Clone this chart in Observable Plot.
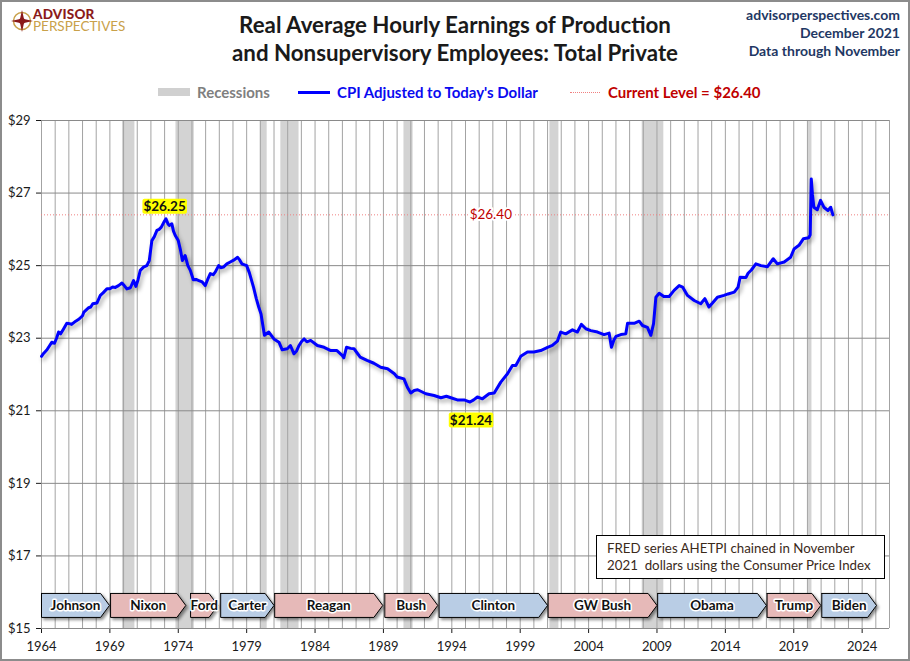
<!DOCTYPE html>
<html><head><meta charset="utf-8">
<script src="https://cdn.jsdelivr.net/npm/d3@7"></script>
<script src="https://cdn.jsdelivr.net/npm/@observablehq/plot@0.6"></script>
<style>
html,body{margin:0;padding:0;background:#fff;}
#wrap{position:relative;width:910px;height:661px;overflow:hidden;font-family:Lato,"Open Sans",sans-serif;background:#fff;}
#border{position:absolute;left:0;top:0;width:910px;height:661px;box-sizing:border-box;border:2px solid #8c8c8c;pointer-events:none;z-index:10;}
#plot{position:absolute;left:0;top:100px;}
.abs{position:absolute;white-space:nowrap;}
#title{left:0;top:11px;width:910px;text-align:center;font-weight:bold;font-size:22.3px;line-height:28px;color:#1a1a1a;}
#topright{right:10px;top:6px;text-align:right;font-weight:bold;font-size:14px;line-height:18px;color:#1f3864;}
.leg{font-weight:bold;font-size:15px;line-height:16px;top:84px;}
#note{left:596px;top:535px;width:289px;height:44px;border:1px solid #000;background:#fff;z-index:5;box-sizing:border-box;padding:4px 0 0 10px;font-size:13.3px;line-height:17px;color:#3b2a1a;}
</style>
</head><body>
<div id="wrap">
  <div id="border"></div>
  <svg class="abs" style="left:11px;top:10px" width="24" height="24" viewBox="0 0 24 24">
    <circle cx="11" cy="11" r="8.5" fill="none" stroke="#c9a14a" stroke-width="1.5"/>
    <path d="M11 0 L13 9 L22 11 L13 13 L11 22 L9 13 L0 11 L9 9 Z" fill="#8b1a1a"/>
    <circle cx="11" cy="11" r="3" fill="#8b1a1a"/>
  </svg>
  <div class="abs" style="left:33px;top:9px;font-size:13.5px;line-height:11.5px"><span style="font-weight:900;color:#8b1a1a;letter-spacing:0.2px">ADVISOR</span><br><span style="color:#c9a14a">PERSPECTIVES</span></div>
  <div id="title" class="abs">Real Average Hourly Earnings of Production<br>and Nonsupervisory Employees: Total Private</div>
  <div id="topright" class="abs">advisorperspectives.com<br>December 2021<br>Data through November</div>
  <div class="abs" style="left:158px;top:88px;width:32px;height:8px;background:#d0d0d0"></div>
  <div class="abs leg" style="left:197px;color:#7f7f7f">Recessions</div>
  <div class="abs" style="left:298px;top:91px;width:32px;height:2.5px;background:#0000ff"></div>
  <div class="abs leg" style="left:337px;color:#0a0af0">CPI Adjusted to Today's Dollar</div>
  <div class="abs" style="left:570px;top:92px;width:30px;height:0;border-top:1px dotted #f08080"></div>
  <div class="abs leg" style="left:608px;color:#c00000">Current Level = $26.40</div>
  <div id="plot"></div>
  <div id="note" class="abs">FRED series AHETPI chained in November<br>2021&nbsp; dollars using the Consumer Price Index</div>
</div>
<script>
// ---- data ----
const dates = [1964.00,1964.15,1964.40,1964.60,1964.75,1964.95,1965.10,1965.25,1965.40,1965.60,1965.85,1966.05,1966.20,1966.50,1966.75,1967.00,1967.10,1967.45,1967.60,1967.75,1968.05,1968.30,1968.50,1968.78,1969.00,1969.20,1969.40,1969.63,1969.88,1970.05,1970.24,1970.50,1970.73,1970.90,1971.05,1971.22,1971.46,1971.70,1971.88,1972.07,1972.25,1972.44,1972.60,1972.76,1972.95,1973.10,1973.25,1973.34,1973.53,1973.65,1973.78,1974.00,1974.15,1974.30,1974.50,1974.70,1974.88,1975.10,1975.30,1975.50,1975.75,1975.97,1976.15,1976.34,1976.55,1976.70,1976.95,1977.10,1977.30,1977.55,1977.80,1978.05,1978.34,1978.50,1978.65,1979.00,1979.20,1979.50,1979.70,1979.88,1980.05,1980.30,1980.62,1980.99,1981.36,1981.60,1981.97,1982.20,1982.46,1982.65,1982.83,1983.00,1983.20,1983.40,1983.68,1984.17,1984.66,1985.15,1985.60,1986.00,1986.10,1986.30,1986.60,1986.85,1987.30,1987.80,1988.30,1988.80,1989.30,1989.80,1990.00,1990.50,1990.75,1991.00,1991.25,1991.50,1992.10,1992.70,1993.20,1993.60,1993.93,1994.40,1994.90,1995.33,1995.60,1995.87,1996.24,1996.72,1997.10,1997.58,1998.07,1998.43,1998.68,1999.04,1999.53,2000.00,2000.50,2001.00,2001.35,2001.72,2001.96,2002.33,2002.82,2003.18,2003.47,2003.80,2004.16,2004.65,2005.13,2005.50,2005.67,2005.85,2006.00,2006.36,2006.72,2006.85,2007.33,2007.70,2007.94,2008.30,2008.55,2008.75,2008.92,2009.16,2009.50,2009.89,2010.25,2010.62,2010.87,2011.23,2011.72,2012.20,2012.50,2012.80,2013.06,2013.42,2013.90,2014.20,2014.65,2014.93,2015.08,2015.50,2015.66,2015.90,2016.23,2016.60,2017.08,2017.50,2017.80,2018.30,2018.77,2019.02,2019.38,2019.70,2020.10,2020.20,2020.28,2020.37,2020.47,2020.72,2020.96,2021.20,2021.50,2021.70,2021.86];
const values = [22.50,22.58,22.68,22.80,22.89,22.86,23.00,23.17,23.12,23.25,23.41,23.40,23.38,23.47,23.53,23.62,23.72,23.84,23.86,23.95,23.97,24.18,24.25,24.36,24.36,24.41,24.40,24.45,24.52,24.45,24.36,24.39,24.59,24.43,24.60,24.87,24.96,25.00,25.14,25.69,25.80,25.97,26.00,26.06,26.20,26.29,26.15,26.11,26.15,25.95,25.83,25.69,25.45,25.14,25.28,25.00,24.87,24.61,24.62,24.59,24.55,24.45,24.62,24.78,24.75,24.82,25.00,24.94,24.96,25.05,25.10,25.15,25.23,25.15,25.05,25.00,24.80,24.41,24.10,23.86,23.67,23.08,23.17,22.98,22.89,22.68,22.71,22.80,22.57,22.65,22.80,22.90,22.98,22.90,22.94,22.80,22.75,22.66,22.66,22.52,22.46,22.75,22.72,22.71,22.48,22.39,22.31,22.20,22.16,22.02,21.93,21.88,21.65,21.49,21.56,21.58,21.47,21.42,21.36,21.40,21.36,21.30,21.30,21.24,21.30,21.38,21.33,21.47,21.49,21.79,22.02,22.25,22.25,22.50,22.62,22.62,22.66,22.75,22.80,22.92,23.17,23.12,23.23,23.17,23.38,23.26,23.21,23.17,23.10,23.14,22.75,22.95,23.05,23.10,23.12,23.41,23.41,23.47,23.35,23.30,23.08,23.40,24.13,24.24,24.15,24.15,24.32,24.45,24.41,24.18,24.04,23.95,24.09,23.86,23.97,24.13,24.18,24.22,24.27,24.41,24.68,24.67,24.79,24.88,25.05,25.00,24.97,25.19,25.05,25.10,25.23,25.46,25.56,25.74,25.77,25.85,27.39,26.95,26.61,26.54,26.80,26.61,26.52,26.61,26.40];
const recStart = [1969.92,1973.83,1980.00,1981.50,1990.50,2001.17,2007.92,2020.08];
const recEnd   = [1970.83,1975.17,1980.50,1982.83,1991.17,2001.83,2009.50,2020.33];
const presNames = ["Johnson","Nixon","Ford","Carter","Reagan","Bush","Clinton","GW Bush","Obama","Trump","Biden"];
const presStart = [1964.0,1969.05,1974.9,1977.1,1981.05,1989.1,1993.07,2001.04,2009.05,2017.05,2021.05];
const presEnd   = [1968.97,1974.55,1976.9,1981.0,1988.95,1992.97,2001.0,2009.0,2017.0,2020.98,2025.05];
const presParty = ["D","R","R","D","R","R","D","R","D","R","D"];
const xTicks = [1964,1969,1974,1979,1984,1989,1994,1999,2004,2009,2014,2019,2024];
const yTicks = [15,17,19,21,23,25,27,29];
const currentLevel = 26.40;
const hiLabels = [{x:1973.0, y:26.25, text:"$26.25"},{x:1995.4, y:21.24, text:"$21.24"}];

// ---- derived ----
const series = dates.map((d,i)=>({x:d, y:values[i]}));
const recessions = recStart.map((s,i)=>({start:s, end:recEnd[i]}));
const partyColor = {D:"#b9cde5", R:"#e6b9b8"};
const arrTop = 15.966, arrBot = 15.305, arrMid = (arrTop+arrBot)/2, arrTip = 0.65;
const presidents = presNames.map((n,i)=>({name:n, start:presStart[i], end:presEnd[i], color:partyColor[presParty[i]]}));
const presMarks = presidents.map(p => Plot.line([
  {x:p.start,y:arrTop},{x:p.end-arrTip,y:arrTop},{x:p.end,y:arrMid},{x:p.end-arrTip,y:arrBot},{x:p.start,y:arrBot},{x:p.start,y:arrTop}
], {x:"x", y:"y", fill:p.color, stroke:"#000000", strokeWidth:1, curve:"linear"}));
const gridYears = d3.range(1964, 2027);

const chart = Plot.plot({
  width: 910, height: 561,
  marginTop: 20, marginBottom: 33, marginLeft: 41, marginRight: 21,
  style: {fontFamily: "Lato, 'Open Sans', sans-serif", fontSize: "13px", color: "#1a1a1a", background: "transparent"},
  x: {domain: [1964, 2026], ticks: xTicks, tickFormat: d => String(d), tickSize: 5, tickPadding: 8, label: null},
  y: {domain: [15, 29], ticks: yTicks, tickFormat: d => "$" + d, tickSize: 5, tickPadding: 6, label: null},
  marks: [
    Plot.rect(recessions, {x1:"start", x2:"end", y1:15, y2:29, fill:"#d3d3d3"}),
    Plot.ruleX(gridYears, {stroke:"#a3a3a3", strokeWidth:1}),
    Plot.ruleY(yTicks, {stroke:"#8a8a8a", strokeWidth:1}),
    Plot.ruleY([currentLevel], {stroke:"#f08080", strokeWidth:1, strokeDasharray:"1,2"}),
    ...presMarks,
    Plot.text(presidents, {x:d => (d.start + d.end)/2, y:arrMid, text:"name", fontWeight:"bold", fontSize:13.5, fill:"#111", stroke:"white", strokeWidth:3}),
    Plot.line(series, {x:"x", y:"y", stroke:"#0000ff", strokeWidth:3}),
    Plot.text([{x:1996.85, y:currentLevel, text:"$26.40"}], {x:"x", y:"y", text:"text", fill:"#c00000", stroke:"white", strokeWidth:4, fontSize:13.5}),
    Plot.text(hiLabels, {x:"x", y:d => d.y + (d.y > 24 ? 0.38 : -0.5), text:"text", fontWeight:"bold", fontSize:13.5, fill:"#111"})
  ]
});
document.getElementById("plot").appendChild(chart);
const svg = d3.select(chart);
svg.selectAll('g[stroke="#0000ff"]').style("filter","drop-shadow(2px 3px 2px rgba(0,0,0,0.35))");
svg.selectAll('g[stroke="#000000"]').style("filter","drop-shadow(2px 2px 1.5px rgba(0,0,0,0.45))");
svg.selectAll('text').filter(function(){ return this.textContent === "$26.25" || this.textContent === "$21.24"; }).each(function(){
  const b = this.getBBox();
  const t = d3.select(this);
  d3.select(this.parentNode).insert("rect", () => this)
    .attr("transform", t.attr("transform"))
    .attr("x", b.x - 1).attr("y", b.y + 1).attr("width", b.width + 2).attr("height", b.height - 1)
    .attr("rx", 2).attr("fill", "#ffff00");
});
</script>
</body></html>
